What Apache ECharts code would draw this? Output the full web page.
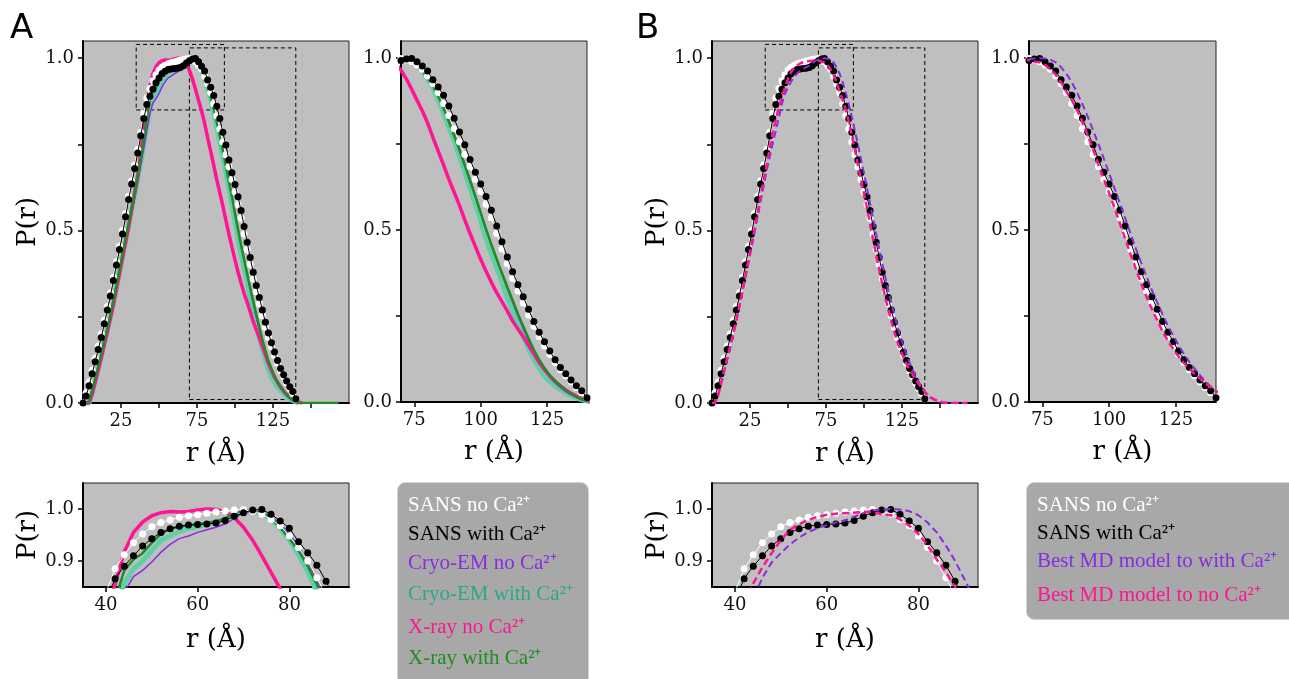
<!DOCTYPE html>
<html>
<head>
<meta charset="utf-8">
<script src="https://cdn.jsdelivr.net/npm/echarts@6/dist/echarts.min.js"></script>
<style>
  html, body { margin: 0; padding: 0; background: #fff; }
  #main { width: 1289px; height: 679px; }
</style>
</head>
<body>
<div id="main"></div>
<script>
// r grid in Angstrom (2 A step)
var rGrid = [0,2,4,6,8,10,12,14,16,18,20,22,24,26,28,30,32,34,36,38,40,42,44,46,48,50,52,54,56,58,
  60,62,64,66,68,70,72,74,76,78,80,82,84,86,88,90,92,94,96,98,100,102,104,106,108,110,112,114,116,118,
  120,122,124,126,128,130,132,134,136,138,140,142,144,146,148,150,152,154,156,158,160,162,164,166,168];

// SANS no Ca2+ (white dots)
var sansNoCa = [0,0.03,0.06,0.095,0.13,0.165,0.2,0.24,0.28,0.32,
  0.365,0.41,0.455,0.5,0.55,0.6,0.645,0.69,0.735,0.785,
  0.84,0.885,0.912,0.935,0.952,0.966,0.974,0.979,0.984,0.987,
  0.989,0.992,0.994,0.996,0.998,0.999,0.995,0.99,0.98,0.968,
  0.948,0.926,0.9,0.868,0.833,0.795,0.757,0.72,0.685,0.648,
  0.612,0.575,0.536,0.49,0.445,0.402,0.36,0.323,0.288,0.253,
  0.22,0.19,0.163,0.138,0.115,0.094,0.076,0.058,0.042,0.027,
  0.012];

// SANS with Ca2+ (black dots)
var sansCa = [0,0.02,0.05,0.085,0.12,0.155,0.19,0.23,0.27,0.31,
  0.355,0.4,0.445,0.49,0.54,0.59,0.635,0.68,0.725,0.775,
  0.825,0.866,0.89,0.91,0.929,0.943,0.955,0.962,0.967,0.969,
  0.97,0.971,0.973,0.978,0.986,0.993,0.998,0.999,0.99,0.977,
  0.963,0.937,0.916,0.892,0.861,0.825,0.785,0.748,0.705,0.668,
  0.634,0.598,0.558,0.512,0.466,0.422,0.379,0.341,0.306,0.27,
  0.234,0.203,0.175,0.148,0.123,0.1,0.082,0.064,0.047,0.033,
  0.012];

// Cryo-EM no Ca2+
var cryoNoCa = [0,0,0,0.02,0.055,0.09,0.125,0.165,0.2,0.24,
  0.28,0.325,0.37,0.415,0.46,0.505,0.55,0.595,0.64,0.69,
  0.74,0.79,0.84,0.87,0.882,0.898,0.917,0.932,0.943,0.948,
  0.955,0.96,0.965,0.971,0.982,0.993,0.996,0.993,0.986,0.972,
  0.952,0.928,0.898,0.862,0.822,0.78,0.738,0.693,0.648,0.601,
  0.553,0.505,0.458,0.415,0.372,0.33,0.29,0.25,0.213,0.178,
  0.145,0.117,0.093,0.073,0.056,0.042,0.03,0.021,0.013,0.007,
  0.003,0.001,0,0,0,0,0,0,0,0,
  0,0,0,0,0];

// Cryo-EM with Ca2+
var cryoCa = [0,0,0,0.03,0.065,0.1,0.135,0.175,0.21,0.25,
  0.29,0.335,0.38,0.425,0.47,0.515,0.56,0.605,0.65,0.7,
  0.75,0.805,0.857,0.885,0.9,0.92,0.94,0.948,0.957,0.963,
  0.966,0.97,0.975,0.98,0.99,0.993,0.995,0.99,0.98,0.963,
  0.94,0.913,0.88,0.84,0.8,0.76,0.715,0.67,0.622,0.575,
  0.528,0.475,0.43,0.39,0.35,0.305,0.265,0.225,0.19,0.155,
  0.125,0.098,0.075,0.06,0.047,0.037,0.027,0.018,0.012,0.007,
  0.003,0];

// X-ray no Ca2+
var xrayNoCa = [0,0,0,0.025,0.06,0.095,0.13,0.17,0.205,0.245,
  0.285,0.33,0.375,0.42,0.465,0.51,0.56,0.61,0.66,0.725,
  0.79,0.855,0.918,0.955,0.975,0.987,0.993,0.995,0.994,0.995,
  0.998,1.0,0.999,0.995,0.983,0.965,0.94,0.91,0.878,0.847,
  0.812,0.77,0.73,0.69,0.648,0.61,0.572,0.53,0.49,0.452,
  0.415,0.38,0.348,0.318,0.292,0.265,0.236,0.212,0.19,0.165,
  0.14,0.115,0.094,0.075,0.06,0.047,0.035,0.025,0.017,0.01,
  0.005,0.002,0];

// X-ray with Ca2+
var xrayCa = [0,0,0.005,0.035,0.07,0.105,0.14,0.18,0.215,0.255,
  0.295,0.34,0.385,0.43,0.475,0.52,0.565,0.61,0.66,0.71,
  0.765,0.825,0.882,0.903,0.915,0.935,0.952,0.962,0.966,0.969,
  0.971,0.973,0.976,0.982,0.992,0.997,0.996,0.992,0.982,0.965,
  0.943,0.92,0.89,0.855,0.815,0.775,0.733,0.688,0.643,0.598,
  0.55,0.503,0.458,0.416,0.375,0.335,0.296,0.257,0.22,0.185,
  0.152,0.123,0.099,0.078,0.061,0.047,0.035,0.024,0.015,0.008,
  0.003,0.001,0,0,0,0,0,0,0,0,
  0,0,0,0,0];

// Best MD model fitted to with Ca2+
var mdCa = [0,0,0.02,0.055,0.09,0.125,0.16,0.2,0.24,0.28,
  0.32,0.365,0.405,0.45,0.495,0.54,0.585,0.63,0.675,0.715,
  0.755,0.79,0.828,0.868,0.897,0.915,0.932,0.945,0.956,0.963,
  0.969,0.974,0.978,0.985,0.992,0.997,0.999,1.0,0.999,0.996,
  0.988,0.974,0.955,0.93,0.9,0.866,0.83,0.79,0.75,0.708,
  0.665,0.622,0.578,0.535,0.49,0.446,0.405,0.365,0.325,0.29,
  0.255,0.222,0.193,0.165,0.14,0.117,0.097,0.078,0.06,0.045,
  0.032,0.022,0.015,0.01,0.006,0.003,0.001,0,0,0,
  0,0,0,0,0];

// Best MD model fitted to no Ca2+
var mdNoCa = [0,0,0.025,0.06,0.095,0.13,0.165,0.2,0.24,0.28,
  0.325,0.37,0.415,0.46,0.505,0.55,0.6,0.645,0.69,0.74,
  0.785,0.822,0.857,0.888,0.915,0.94,0.96,0.971,0.979,0.985,
  0.989,0.991,0.992,0.993,0.995,0.994,0.99,0.988,0.98,0.968,
  0.952,0.93,0.903,0.878,0.85,0.815,0.775,0.735,0.69,0.648,
  0.607,0.565,0.52,0.475,0.43,0.387,0.345,0.305,0.27,0.237,
  0.205,0.178,0.153,0.132,0.113,0.097,0.082,0.068,0.055,0.043,
  0.032,0.023,0.016,0.011,0.007,0.004,0.002,0.001,0,0,
  0,0,0,0,0];

// ticks
var xTicksMain = [25,50,75,100,125,150];
var xLabelsMain = [25,75,125];
var xTicksRight = [75,100,125];
var xTicksBottom = [40,60,80];
var yTicksFull = [0,0.25,0.5,0.75,1.0];
var yLabelsFull = [0,0.5,1.0];
var yTicksBottom = [0.9,1.0];

// zoom boxes drawn on the main panels: [r0, p0, r1, p1]
var zoomBoxes = [[35,0.85,93,1.04],[70,0.01,140,1.03]];

var legendA = ["SANS no Ca²⁺","SANS with Ca²⁺","Cryo-EM no Ca²⁺","Cryo-EM with Ca²⁺","X-ray no Ca²⁺","X-ray with Ca²⁺"];
var legendB = ["SANS no Ca²⁺","SANS with Ca²⁺","Best MD model to with Ca²⁺","Best MD model to no Ca²⁺"];

var FONT = "DejaVu Serif";
var C_PURPLE = "#8a2be2", C_TEAL = "#5fcfa8", C_PINK = "#ff1493", C_GREEN = "#228b22";

function pairs(vals) {
  return vals.map(function (v, i) { return [rGrid[i], v]; });
}

// panel layouts: left, top, width, height
var panels = [
  { rect: [83, 41, 266, 362], kind: "main", set: "A" },
  { rect: [401, 41, 186, 361], kind: "right", set: "A" },
  { rect: [83, 483, 266, 104], kind: "bottom", set: "A" },
  { rect: [712, 41, 266, 362], kind: "main", set: "B" },
  { rect: [1029, 41, 187, 361], kind: "right", set: "B" },
  { rect: [712, 483, 266, 104], kind: "bottom", set: "B" }
];

var axisCfg = {
  main: { xMin: 0, xMax: 175, xTicks: xTicksMain, xLabels: xLabelsMain, yMin: 0, yMax: 1.05, yTicks: yTicksFull, yLabels: yLabelsFull, yName: "P(r)", xGap: 38 },
  right: { xMin: 70, xMax: 140, xTicks: xTicksRight, xLabels: xTicksRight, yMin: 0, yMax: 1.05, yTicks: yTicksFull, yLabels: yLabelsFull, yName: "", xGap: 37 },
  bottom: { xMin: 35, xMax: 93, xTicks: xTicksBottom, xLabels: xTicksBottom, yMin: 0.85, yMax: 1.05, yTicks: yTicksBottom, yLabels: yTicksBottom, yName: "P(r)", xGap: 40 }
};

var grids = [], xAxes = [], yAxes = [], series = [];

function lineSeries(gi, name, vals, color, width, dash, z) {
  return {
    type: "line", name: name, xAxisIndex: gi, yAxisIndex: gi, z: z || 2,
    data: pairs(vals), showSymbol: false, clip: true, silent: true,
    lineStyle: { color: color, width: width, type: dash || "solid" }
  };
}

function dotSeries(gi, name, vals, color, lineColor, z) {
  return {
    type: "line", name: name, xAxisIndex: gi, yAxisIndex: gi, z: z,
    data: pairs(vals), symbol: "circle", symbolSize: 7, showSymbol: true, showAllSymbol: true,
    clip: true, silent: true,
    itemStyle: { color: color, borderWidth: 0 },
    lineStyle: { color: lineColor, width: 1 }
  };
}

panels.forEach(function (p, gi) {
  var cfg = axisCfg[p.kind];
  grids.push({
    left: p.rect[0], top: p.rect[1], width: p.rect[2], height: p.rect[3],
    show: true, backgroundColor: "#bfbfbf", borderColor: "#222", borderWidth: 1
  });
  xAxes.push({
    type: "value", gridIndex: gi, min: cfg.xMin, max: cfg.xMax,
    name: "r (Å)", nameLocation: "middle", nameGap: cfg.xGap,
    nameTextStyle: { fontFamily: FONT, fontSize: 26, color: "#000" },
    axisLine: { show: true, onZero: false, lineStyle: { color: "#000", width: 2 } },
    axisTick: { show: true, length: 5, customValues: cfg.xTicks, lineStyle: { color: "#000", width: 1.5 } },
    axisLabel: { customValues: cfg.xLabels, margin: 9, fontFamily: FONT, fontSize: 18, color: "#111" },
    splitLine: { show: false }
  });
  yAxes.push({
    type: "value", gridIndex: gi, min: cfg.yMin, max: cfg.yMax,
    name: cfg.yName, nameLocation: "middle", nameGap: 42,
    nameTextStyle: { fontFamily: FONT, fontSize: 26, color: "#000" },
    axisLine: { show: true, onZero: false, lineStyle: { color: "#000", width: 2 } },
    axisTick: { show: true, length: 5, customValues: cfg.yTicks, lineStyle: { color: "#000", width: 1.5 } },
    axisLabel: {
      customValues: cfg.yLabels, margin: 9, fontFamily: FONT, fontSize: 18, color: "#111",
      formatter: function (v) { return Number(v).toFixed(1); }
    },
    splitLine: { show: false }
  });

  if (p.set === "A") {
    series.push(lineSeries(gi, legendA[3], cryoCa, C_TEAL, 5));
    series.push(lineSeries(gi, legendA[2], cryoNoCa, C_PURPLE, 1.5));
    series.push(lineSeries(gi, legendA[4], xrayNoCa, C_PINK, 3.5));
    series.push(lineSeries(gi, legendA[5], xrayCa, C_GREEN, 2.5));
  }
  series.push(dotSeries(gi, legendA[0], sansNoCa, "#ffffff", "#ffffff", 4));
  var black = dotSeries(gi, legendA[1], sansCa, "#000000", "#000000", 5);
  series.push(black);
  if (p.set === "B") {
    series.push(lineSeries(gi, legendB[2], mdCa, C_PURPLE, 2, [7, 4], 6));
    series.push(lineSeries(gi, legendB[3], mdNoCa, C_PINK, 2.5, [7, 4], 7));
  }
  if (p.kind === "main") {
    black.markArea = {
      silent: true,
      itemStyle: { color: "rgba(0,0,0,0)", borderColor: "#000", borderWidth: 1, borderType: [4, 3] },
      data: zoomBoxes.map(function (b) { return [{ coord: [b[0], b[1]] }, { coord: [b[2], b[3]] }]; })
    };
  }
});

// legend boxes and panel letters
var legendColorsA = ["#ffffff", "#000000", C_PURPLE, "#2aa88a", C_PINK, C_GREEN];
var legendColorsB = ["#ffffff", "#000000", C_PURPLE, C_PINK];
var graphics = [
  { type: "text", x: 10, y: 29, style: { text: "A", font: '34px "DejaVu Sans"', fill: "#000", verticalAlign: "middle", textVerticalAlign: "middle" } },
  { type: "text", x: 636, y: 29, style: { text: "B", font: '34px "DejaVu Sans"', fill: "#000", verticalAlign: "middle", textVerticalAlign: "middle" } },
  { type: "rect", shape: { x: 397.5, y: 482.5, width: 191, height: 215, r: 8 }, style: { fill: "#a8a8a8", stroke: "#d2d2d2", lineWidth: 1 } },
  { type: "rect", shape: { x: 1026.5, y: 482.5, width: 290, height: 137, r: 8 }, style: { fill: "#a8a8a8", stroke: "#d2d2d2", lineWidth: 1 } }
];
var rowsA = [505, 534, 563, 594, 627, 658];
var rowsB = [505, 533, 561, 595];
legendA.forEach(function (t, i) {
  graphics.push({ type: "text", x: 408, y: rowsA[i], style: { text: t, font: '21px "Liberation Serif"', fill: legendColorsA[i], verticalAlign: "middle", textVerticalAlign: "middle" } });
});
legendB.forEach(function (t, i) {
  graphics.push({ type: "text", x: 1037, y: rowsB[i], style: { text: t, font: '21px "Liberation Serif"', fill: legendColorsB[i], verticalAlign: "middle", textVerticalAlign: "middle" } });
});

var myChart = echarts.init(document.getElementById("main"));
myChart.setOption({
  animation: false,
  backgroundColor: "#ffffff",
  grid: grids,
  xAxis: xAxes,
  yAxis: yAxes,
  series: series,
  graphic: graphics
});
</script>
</body>
</html>
